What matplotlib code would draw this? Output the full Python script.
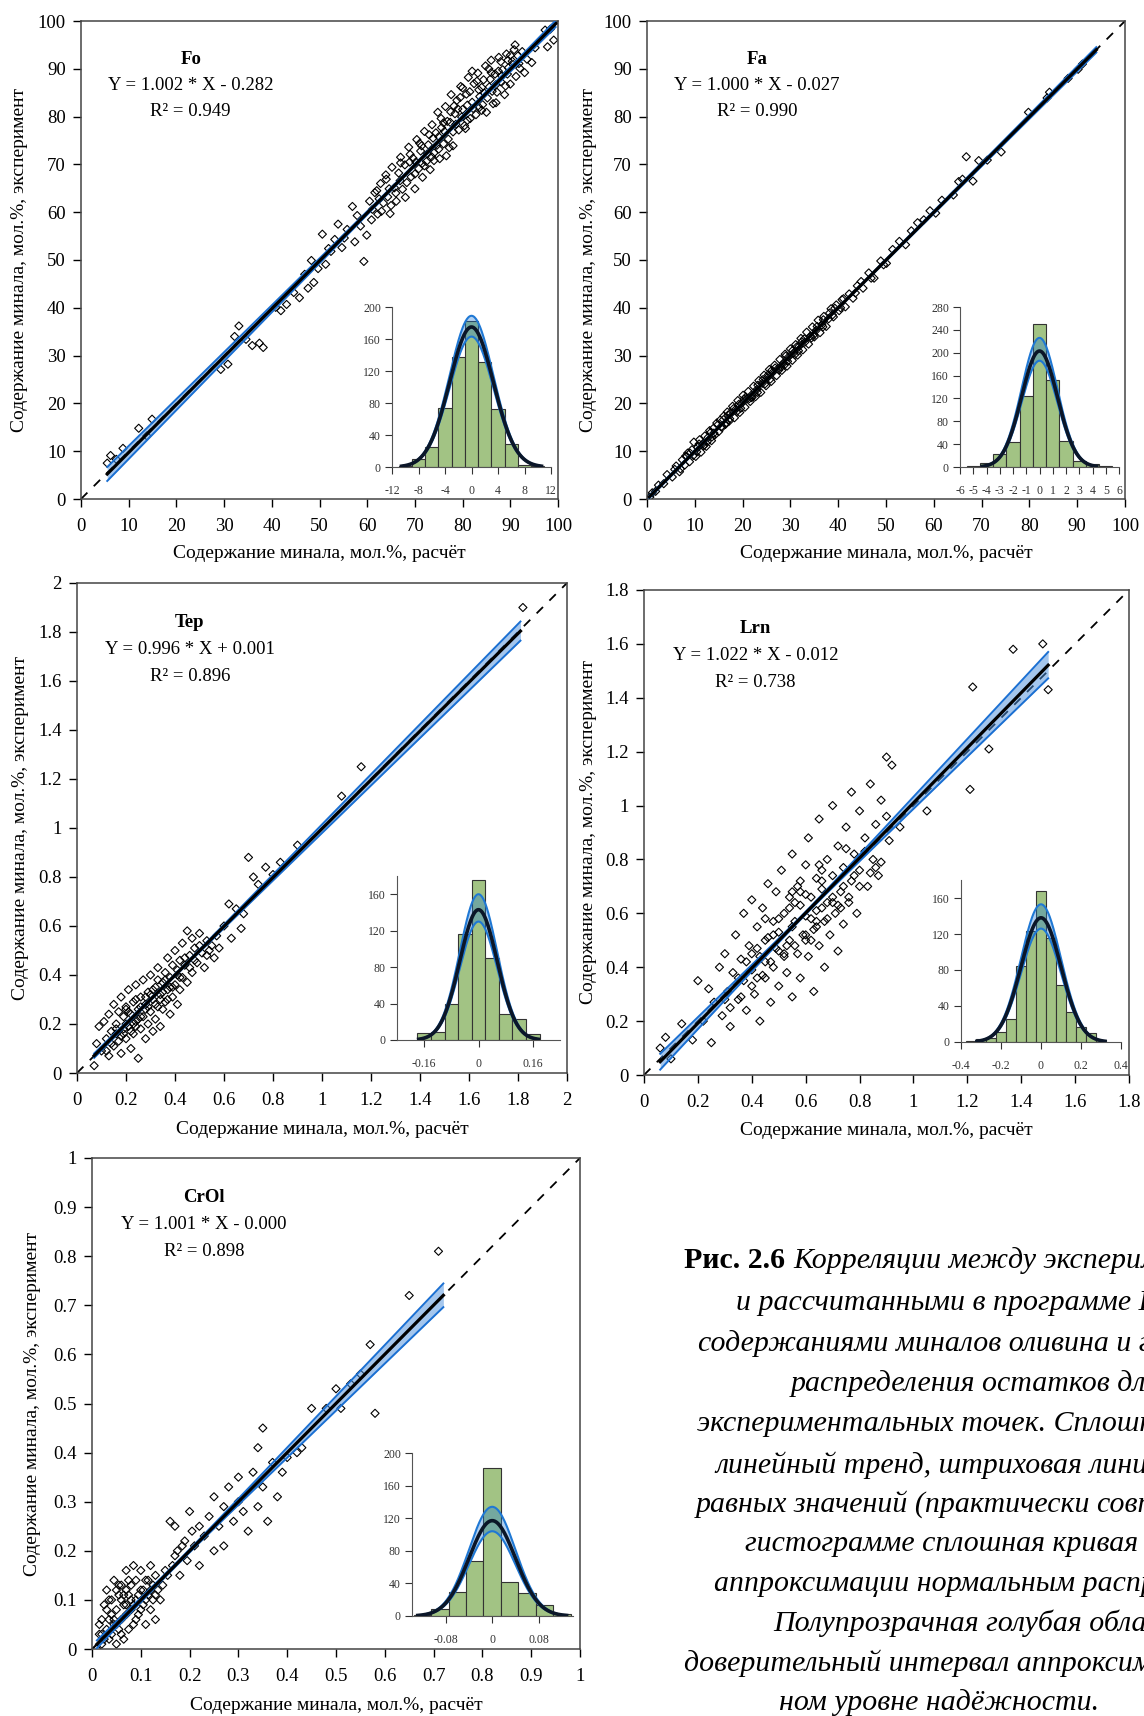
import numpy as np
import matplotlib
matplotlib.use('Agg')
import matplotlib.pyplot as plt
from matplotlib.ticker import FormatStrFormatter

plt.rcParams['font.family'] = ['Liberation Serif', 'DejaVu Serif']

W, H = 1144, 1716

# ---------------- scatter data (calculated vs experimental) ----------------
fo_calc = [5.5, 6.2, 7.4, 8.8, 12.1, 13.8, 14.9, 29.3, 30.8, 32.2, 33.1, 34.6, 35.9, 37.4, 38.2,
           40.8, 41.9, 43.1, 44.6, 45.8, 46.9, 47.6, 48.8, 49.7, 50.6, 51.3, 52.4, 53.2, 53.9, 54.7, 55.8,
           56.9, 57.4, 58.6, 59.3, 59.9, 60.5, 60.9, 61.6, 62.2, 62.8, 63.4, 63.9, 64.3, 64.8, 65.2, 65.7,
           66.1, 66.6, 67.0, 67.4, 67.9, 68.3, 68.7, 69.2, 69.6, 70.0, 70.4, 70.8, 71.2, 71.6, 72.0, 72.4,
           72.8, 73.2, 73.6, 74.0, 74.4, 74.8, 75.2, 75.6, 76.0, 76.4, 76.8, 77.2, 77.6, 78.0, 78.4, 78.8,
           79.2, 79.6, 80.0, 80.4, 80.8, 81.2, 81.6, 82.0, 82.4, 82.8, 83.2, 83.6, 84.0, 84.4, 84.8, 85.2,
           85.6, 86.0, 86.4, 86.8, 87.2, 87.6, 88.0, 88.4, 88.8, 89.2, 89.6, 90.0, 90.4, 90.8, 91.2, 91.6,
           92.0, 92.5, 93.0, 93.5, 94.5, 95.2, 97.3, 97.8, 98.4, 99.1,
           70.2, 71.4, 72.6, 73.8, 75.0, 76.2, 77.4, 78.6, 79.8, 81.0, 82.2, 83.4, 84.6, 85.8, 87.0, 88.2,
           89.4, 90.6, 91.8, 84.2, 86.2, 80.6, 78.2, 74.6, 76.6, 68.9, 66.9, 64.6, 62.5, 61.1, 57.9, 55.2,
           51.9, 48.3,
           62.0, 63.0, 64.0, 65.0, 66.0, 67.0, 68.0, 69.0, 70.0, 71.0, 72.0, 73.0, 74.0, 75.0, 76.0,
           77.0, 78.0, 79.0, 80.0, 81.0, 82.0, 83.0, 84.0, 85.0, 86.0, 87.0, 88.0, 89.0, 90.0, 91.0,
           79.5, 81.5, 83.5, 85.5, 87.5, 89.5, 77.5, 75.5, 73.5, 71.5]
fo_exp = [7.5, 9.1, 8.3, 10.6, 14.8, 13.2, 16.7, 27.1, 28.2, 34.0, 36.2, 33.4, 32.1, 32.6, 31.7,
          40.1, 39.4, 40.7, 43.2, 42.1, 47.0, 44.1, 45.3, 48.2, 55.4, 49.1, 51.8, 54.3, 57.5, 52.6, 56.4,
          61.2, 53.8, 57.1, 49.7, 55.2, 62.3, 58.4, 64.1, 59.6, 66.0, 61.9, 67.8, 63.2, 59.7, 69.4, 65.1,
          62.3, 68.2, 71.5, 64.8, 69.9, 66.2, 73.6, 67.4, 71.3, 64.9, 75.2, 69.1, 72.8, 67.3, 76.9, 70.6,
          74.1, 68.9, 78.3, 72.4, 76.6, 80.9, 71.2, 77.7, 74.3, 82.1, 79.0, 73.5, 84.6, 76.8, 80.6, 83.4,
          77.2, 86.3, 81.5, 78.1, 84.7, 88.2, 79.6, 83.0, 86.9, 80.4, 89.1, 84.2, 81.3, 87.7, 90.6, 83.9,
          86.2, 91.8, 82.7, 88.9, 85.1, 92.4, 87.3, 89.8, 84.6, 93.1, 90.2, 86.8, 91.6, 94.0, 88.4, 92.7,
          90.1, 93.6, 89.2, 92.0, 91.3, 94.4, 98.1, 94.6, 98.3, 96.0,
          70.5, 73.9, 72.2, 75.5, 75.8, 76.9, 78.8, 78.4, 79.9, 82.4, 81.7, 85.6, 84.9, 87.8, 86.7, 88.5,
          88.9, 90.9, 91.1, 82.5, 85.3, 77.5, 82.2, 74.0, 71.8, 70.5, 66.6, 64.9, 62.8, 60.6, 59.3, 54.6,
          52.4, 49.9,
          64.5, 60.2, 66.9, 61.4, 64.0, 70.3, 63.1, 72.1, 68.0, 74.4, 69.7, 76.2, 70.8, 73.2, 78.7,
          75.3, 73.9, 81.6, 86.0, 79.2, 89.5, 87.4, 86.1, 80.9, 89.2, 82.9, 91.5, 86.4, 92.8, 95.0,
          84.0, 85.2, 81.9, 90.0, 89.5, 91.8, 81.0, 79.6, 71.6, 70.2]

fa_calc = [0.6, 1.1, 1.8, 2.4, 3.5, 4.2, 5.3, 6.1, 6.8, 7.4, 7.9, 8.5, 8.9, 9.4, 9.8, 10.2,
           10.6, 11.0, 11.3, 11.7, 12.1, 12.4, 12.8, 13.1, 13.5, 13.9, 14.2, 14.6, 15.0, 15.3, 15.7, 16.1,
           16.4, 16.8, 17.2, 17.5, 17.9, 18.3, 18.6, 19.0, 19.4, 19.7, 20.1, 20.5, 20.8, 21.2, 21.6, 21.9,
           22.3, 22.7, 23.0, 23.4, 23.8, 24.1, 24.5, 24.9, 25.2, 25.6, 26.0, 26.3, 26.7, 27.1, 27.4, 27.8,
           28.2, 28.5, 28.9, 29.3, 29.6, 30.0, 30.4, 30.7, 31.1, 31.5, 31.8, 32.2, 32.6, 33.0, 33.4, 33.8,
           34.2, 34.6, 35.0, 35.4, 35.8, 36.2, 36.6, 37.0, 37.5, 38.0, 38.5, 39.0, 39.6, 40.2, 40.8, 41.5,
           42.3, 43.1, 44.0, 45.2, 46.4, 47.5, 48.9, 50.1, 51.4, 52.8, 54.1, 55.3, 56.6, 57.9, 59.2, 60.4,
           61.7, 64.1, 65.2, 66.0, 66.8, 68.2, 69.4, 71.2, 74.1, 79.8, 83.7, 84.2, 88.1, 90.2, 91.1,
           9.0, 10.4, 12.6, 14.0, 15.5, 17.0, 18.8, 20.3, 21.4, 23.2, 24.7, 26.1, 27.6, 29.0, 30.9, 32.4,
           8.1, 11.8, 13.3, 16.6, 19.2, 22.0, 25.4, 28.7, 31.3, 34.9, 36.9, 38.8,
           5.8, 7.0, 8.3, 9.7, 10.9, 12.0, 13.6, 14.8, 16.0, 17.3, 18.1, 19.6, 20.7, 21.8, 23.1, 24.3,
           25.8, 26.8, 28.0, 29.4, 30.5, 31.7, 32.9, 34.4, 35.6, 36.8, 38.2, 39.3, 40.5, 41.1, 43.6, 44.8,
           46.9, 49.5]
fa_exp = [0.4, 1.3, 1.6, 2.9, 3.2, 5.1, 4.6, 6.9, 5.7, 8.2, 7.1, 9.6, 7.8, 10.3, 11.9, 8.9,
          10.8, 12.4, 9.8, 11.6, 13.2, 11.0, 12.9, 14.3, 12.2, 14.8, 13.4, 15.9, 14.1, 16.5, 15.0, 17.4,
          15.6, 18.2, 16.3, 17.9, 19.4, 17.0, 18.8, 20.6, 18.1, 19.9, 21.7, 19.2, 20.9, 22.5, 20.4, 21.8,
          23.6, 21.4, 22.9, 24.8, 22.3, 24.2, 25.9, 23.7, 25.4, 27.1, 24.6, 26.5, 28.0, 25.8, 27.3, 29.2,
          26.9, 28.4, 30.3, 27.8, 29.7, 31.4, 29.0, 30.6, 32.3, 30.1, 31.9, 33.6, 31.2, 32.8, 34.9, 32.4,
          34.1, 36.0, 33.9, 35.3, 37.4, 34.8, 36.4, 38.2, 36.1, 37.7, 39.8, 38.1, 40.6, 39.4, 41.7, 40.2,
          42.9, 42.0, 44.6, 44.1, 47.3, 46.2, 49.8, 49.3, 52.2, 53.9, 53.2, 56.1, 57.8, 58.4, 60.3, 59.8,
          62.5, 63.6, 66.4, 66.9, 71.6, 66.5, 70.8, 70.9, 72.6, 80.9, 83.9, 85.1, 88.0, 89.9, 91.0,
          9.6, 9.9, 12.0, 13.8, 15.1, 17.6, 18.3, 20.9, 21.0, 23.8, 24.1, 26.9, 27.0, 29.9, 30.2, 32.9,
          9.0, 11.1, 13.9, 16.0, 19.8, 21.3, 26.0, 28.0, 31.8, 34.4, 37.5, 38.5,
          6.2, 6.3, 8.9, 9.1, 11.5, 11.3, 13.0, 15.5, 16.6, 16.8, 18.9, 19.0, 21.3, 21.2, 22.3, 25.0,
          25.1, 27.4, 27.6, 28.8, 31.1, 31.0, 33.5, 33.7, 36.1, 36.0, 38.9, 39.9, 40.0, 41.9, 43.1, 45.5,
          46.2, 49.0]

tep_calc = [0.07, 0.08, 0.09, 0.10, 0.11, 0.12, 0.13, 0.13, 0.14, 0.15, 0.15, 0.16, 0.17, 0.17, 0.18, 0.18,
            0.19, 0.19, 0.20, 0.20, 0.21, 0.21, 0.22, 0.22, 0.23, 0.23, 0.24, 0.24, 0.25, 0.25, 0.26, 0.26,
            0.27, 0.27, 0.28, 0.28, 0.29, 0.29, 0.30, 0.30, 0.31, 0.31, 0.32, 0.32, 0.33, 0.33, 0.34, 0.34,
            0.35, 0.35, 0.36, 0.36, 0.37, 0.37, 0.38, 0.38, 0.39, 0.39, 0.40, 0.40, 0.41, 0.41, 0.42, 0.42,
            0.43, 0.43, 0.44, 0.45, 0.45, 0.46, 0.47, 0.47, 0.48, 0.49, 0.50, 0.51, 0.52, 0.53, 0.54, 0.55,
            0.56, 0.57, 0.58, 0.60, 0.62, 0.63, 0.65, 0.67, 0.68, 0.70, 0.72, 0.74, 0.77, 0.80, 0.83, 0.90,
            1.08, 1.16, 1.82, 0.20, 0.25, 0.30, 0.35, 0.28, 0.22, 0.18, 0.16, 0.26, 0.32, 0.38, 0.24, 0.14, 0.12,
            0.16, 0.19, 0.21, 0.23, 0.26, 0.29, 0.31, 0.34, 0.36, 0.39, 0.41, 0.44, 0.46, 0.48, 0.50, 0.53,
            0.20, 0.24, 0.28, 0.33, 0.37, 0.42]
tep_exp = [0.03, 0.12, 0.19, 0.09, 0.21, 0.14, 0.07, 0.24, 0.17, 0.11, 0.28, 0.20, 0.13, 0.25, 0.08, 0.31,
           0.18, 0.23, 0.14, 0.27, 0.34, 0.19, 0.10, 0.24, 0.29, 0.16, 0.36, 0.21, 0.26, 0.06, 0.31, 0.18,
           0.23, 0.38, 0.28, 0.14, 0.33, 0.20, 0.25, 0.40, 0.30, 0.17, 0.35, 0.22, 0.27, 0.43, 0.32, 0.19,
           0.37, 0.26, 0.41, 0.29, 0.34, 0.47, 0.39, 0.24, 0.44, 0.31, 0.36, 0.50, 0.42, 0.28, 0.46, 0.34,
           0.39, 0.53, 0.44, 0.37, 0.58, 0.48, 0.41, 0.55, 0.51, 0.45, 0.57, 0.49, 0.43, 0.54, 0.50, 0.52,
           0.47, 0.56, 0.51, 0.60, 0.69, 0.55, 0.67, 0.59, 0.65, 0.88, 0.80, 0.77, 0.84, 0.81, 0.86, 0.93,
           1.13, 1.25, 1.90, 0.20, 0.22, 0.32, 0.33, 0.26, 0.17, 0.15, 0.16, 0.27, 0.28, 0.35, 0.30, 0.12, 0.09,
           0.18, 0.16, 0.25, 0.20, 0.23, 0.27, 0.34, 0.30, 0.38, 0.35, 0.40, 0.47, 0.43, 0.46, 0.52, 0.48,
           0.26, 0.19, 0.31, 0.38, 0.30, 0.39]

lrn_calc = [0.06, 0.08, 0.10, 0.14, 0.18, 0.20, 0.22, 0.24, 0.25, 0.26, 0.28, 0.29, 0.30, 0.31, 0.32, 0.33,
            0.34, 0.35, 0.36, 0.37, 0.37, 0.38, 0.39, 0.40, 0.40, 0.41, 0.42, 0.43, 0.43, 0.44, 0.45, 0.45,
            0.46, 0.47, 0.47, 0.48, 0.49, 0.49, 0.50, 0.50, 0.51, 0.52, 0.52, 0.53, 0.54, 0.54, 0.55, 0.55,
            0.56, 0.57, 0.57, 0.58, 0.58, 0.59, 0.60, 0.60, 0.61, 0.61, 0.62, 0.63, 0.63, 0.64, 0.64, 0.65,
            0.65, 0.66, 0.67, 0.67, 0.68, 0.68, 0.69, 0.70, 0.70, 0.71, 0.72, 0.72, 0.73, 0.74, 0.74, 0.75,
            0.76, 0.77, 0.77, 0.78, 0.79, 0.80, 0.80, 0.82, 0.83, 0.84, 0.85, 0.86, 0.87, 0.88, 0.90, 0.91,
            0.92, 0.95, 1.05, 1.21, 1.22, 1.28, 1.37, 1.48, 1.50,
            0.40, 0.45, 0.50, 0.55, 0.60, 0.62, 0.66, 0.70, 0.35, 0.30, 0.53, 0.48, 0.58, 0.66, 0.73, 0.42,
            0.38, 0.56, 0.64, 0.60,
            0.32, 0.36, 0.40, 0.44, 0.48, 0.52, 0.56, 0.60, 0.64, 0.68, 0.72, 0.76, 0.80, 0.84, 0.88,
            0.42, 0.46, 0.50, 0.54, 0.58, 0.62, 0.66, 0.70, 0.74, 0.78, 0.82, 0.86, 0.90,
            0.45, 0.55, 0.65, 0.75]
lrn_exp = [0.10, 0.14, 0.06, 0.19, 0.13, 0.35, 0.20, 0.32, 0.12, 0.27, 0.40, 0.22, 0.45, 0.31, 0.18, 0.38,
           0.52, 0.28, 0.43, 0.35, 0.60, 0.24, 0.48, 0.39, 0.65, 0.30, 0.55, 0.44, 0.20, 0.62, 0.36, 0.50,
           0.71, 0.42, 0.27, 0.57, 0.47, 0.68, 0.33, 0.53, 0.76, 0.44, 0.60, 0.38, 0.66, 0.50, 0.29, 0.82,
           0.57, 0.45, 0.70, 0.63, 0.36, 0.52, 0.78, 0.59, 0.44, 0.88, 0.66, 0.54, 0.31, 0.73, 0.61, 0.48,
           0.95, 0.69, 0.57, 0.40, 0.80, 0.64, 0.52, 0.74, 1.00, 0.60, 0.85, 0.46, 0.68, 0.77, 0.56, 0.92,
           0.64, 1.05, 0.72, 0.82, 0.60, 0.76, 0.98, 0.88, 0.70, 1.08, 0.80, 0.93, 0.74, 1.02, 1.18, 0.87,
           1.15, 0.92, 0.98, 1.06, 1.44, 1.21, 1.58, 1.60, 1.43,
           0.45, 0.42, 0.58, 0.55, 0.67, 0.50, 0.62, 0.66, 0.36, 0.28, 0.48, 0.52, 0.72, 0.76, 0.62, 0.36,
           0.42, 0.64, 0.57, 0.50,
           0.25, 0.29, 0.33, 0.37, 0.40, 0.45, 0.48, 0.52, 0.55, 0.58, 0.63, 0.66, 0.70, 0.75, 0.79,
           0.47, 0.51, 0.46, 0.62, 0.68, 0.58, 0.72, 0.64, 0.70, 0.74, 0.83, 0.77, 0.96,
           0.58, 0.68, 0.78, 0.84]

crol_calc = [0.010, 0.015, 0.020, 0.020, 0.025, 0.030, 0.030, 0.035, 0.040, 0.040, 0.045, 0.045, 0.050, 0.050, 0.055, 0.055,
             0.060, 0.060, 0.065, 0.065, 0.070, 0.070, 0.075, 0.075, 0.080, 0.080, 0.085, 0.085, 0.090, 0.090, 0.095, 0.100,
             0.100, 0.105, 0.110, 0.110, 0.115, 0.120, 0.120, 0.125, 0.130, 0.130, 0.140, 0.150, 0.160, 0.170, 0.170, 0.180,
             0.19, 0.20, 0.21, 0.22, 0.22, 0.23, 0.24, 0.25, 0.25, 0.26, 0.27, 0.27, 0.28, 0.29, 0.30, 0.30,
             0.31, 0.32, 0.33, 0.34, 0.34, 0.35, 0.35, 0.36, 0.37, 0.38, 0.39, 0.40, 0.42, 0.43, 0.45, 0.48,
             0.50, 0.51, 0.53, 0.55, 0.57, 0.58, 0.65, 0.71,
             0.020, 0.030, 0.040, 0.050, 0.060, 0.070, 0.080, 0.090, 0.100, 0.110, 0.120, 0.130, 0.050, 0.060, 0.035, 0.070,
             0.015, 0.025, 0.035, 0.045, 0.055, 0.065, 0.075, 0.085, 0.095, 0.105, 0.115, 0.125, 0.135, 0.145, 0.155, 0.165,
             0.175, 0.185, 0.195, 0.205]
crol_exp = [0.00, 0.03, 0.06, 0.01, 0.09, 0.04, 0.12, 0.02, 0.07, 0.10, 0.05, 0.14, 0.01, 0.08, 0.11, 0.04,
            0.13, 0.06, 0.09, 0.02, 0.16, 0.07, 0.11, 0.04, 0.13, 0.08, 0.17, 0.05, 0.10, 0.14, 0.07, 0.12,
            0.16, 0.09, 0.05, 0.14, 0.11, 0.17, 0.08, 0.13, 0.15, 0.06, 0.10, 0.16, 0.26, 0.25, 0.19, 0.15,
            0.22, 0.28, 0.21, 0.17, 0.25, 0.23, 0.27, 0.20, 0.31, 0.25, 0.29, 0.21, 0.33, 0.26, 0.30, 0.35,
            0.28, 0.24, 0.36, 0.29, 0.41, 0.33, 0.45, 0.26, 0.38, 0.31, 0.36, 0.39, 0.40, 0.41, 0.49, 0.49,
            0.53, 0.49, 0.54, 0.56, 0.62, 0.48, 0.72, 0.81,
            0.03, 0.08, 0.03, 0.12, 0.10, 0.12, 0.10, 0.06, 0.08, 0.10, 0.12, 0.11, 0.05, 0.03, 0.06, 0.09,
            0.05, 0.02, 0.10, 0.06, 0.13, 0.11, 0.14, 0.09, 0.11, 0.12, 0.14, 0.10, 0.12, 0.13, 0.15, 0.17,
            0.20, 0.21, 0.18, 0.24]

# regression: slope, intercept, R2
fo_fit = (1.002, -0.282, 0.949)
fa_fit = (1.000, -0.027, 0.990)
tep_fit = (0.996, 0.001, 0.896)
lrn_fit = (1.022, -0.012, 0.738)
crol_fit = (1.001, -0.0004, 0.898)

# ---------------- residual histograms ----------------
fo_res = [-10, -8, -6, -4, -2, 0, 2, 4, 6, 8, 10]
fo_cnt = [1, 10, 25, 74, 137, 183, 131, 72, 29, 2, 1]
fa_res = [-5, -4, -3, -2, -1, 0, 1, 2, 3, 4, 5]
fa_cnt = [1, 7, 22, 43, 125, 250, 153, 46, 11, 6, 1]
tep_res = [-0.16, -0.12, -0.08, -0.04, 0, 0.04, 0.08, 0.12, 0.16]
tep_cnt = [8, 9, 39, 116, 176, 90, 28, 23, 7]
lrn_res = [-0.35, -0.3, -0.25, -0.2, -0.15, -0.1, -0.05, 0, 0.05, 0.1, 0.15, 0.2, 0.25, 0.3]
lrn_cnt = [1, 3, 4, 11, 26, 84, 123, 168, 116, 63, 33, 17, 10, 2]
crol_res = [-0.12, -0.09, -0.06, -0.03, 0, 0.03, 0.06, 0.09, 0.12]
crol_cnt = [1, 9, 29, 67, 182, 42, 28, 14, 3]

# normal fit: peak, lower, upper, sd
fo_norm = (175, 163, 189, 3.3)
fa_norm = (203, 186, 226, 1.35)
tep_norm = (143, 130, 160, 0.055)
lrn_norm = (138, 126, 153, 0.1)
crol_norm = (117, 104, 134, 0.04)

fig = plt.figure(figsize=(W / 100, H / 100), dpi=100)


def px_axes(l, t, r, b):
    return fig.add_axes([l / W, 1 - b / H, (r - l) / W, (b - t) / H])


def scatter_panel(box, calc, exp, fit, xr, band, lim, step, name, ylab_x):
    ax = px_axes(*box)
    slope, icpt, r2 = fit
    ax.plot([0, lim], [0, lim], color='black', lw=1.3, ls=(0, (5, 5)), zorder=1)
    ax.scatter(calc, exp, marker='D', s=17, facecolors='none', edgecolors='black',
               linewidths=0.8, zorder=2)
    xs = np.linspace(xr[0], xr[1], 200)
    ys = slope * xs + icpt
    xm = np.mean(calc)
    hw = np.sqrt(band[0] ** 2 + (band[1] * (xs - xm)) ** 2)
    ax.fill_between(xs, ys - hw, ys + hw, color='#4a8fdc', alpha=0.5, lw=0, zorder=3)
    ax.plot(xs, ys + hw, color='#1a6fd2', lw=1.4, zorder=4)
    ax.plot(xs, ys - hw, color='#1a6fd2', lw=1.4, zorder=4)
    ax.plot(xs, ys, color='black', lw=2.3, zorder=5)
    ax.set_xlim(0, lim)
    ax.set_ylim(0, lim)
    ticks = np.arange(0, lim + step / 2, step)
    ax.set_xticks(ticks)
    ax.set_yticks(ticks)
    ax.xaxis.set_major_formatter(FormatStrFormatter('%g'))
    ax.yaxis.set_major_formatter(FormatStrFormatter('%g'))
    ax.tick_params(direction='out', length=6, width=1, labelsize=13.5)
    ax.tick_params(axis='x', pad=8)
    ax.tick_params(axis='y', pad=5)
    for sp in ax.spines.values():
        sp.set_color('#444444')
        sp.set_linewidth(1.1)
    sign = '+' if icpt >= 0 else '-'
    ax.text(0.23, 0.92, name, transform=ax.transAxes, ha='center', va='center',
            fontsize=13.5, fontweight='bold')
    ax.text(0.23, 0.865, f'Y = {slope:.3f} * X {sign} {abs(icpt):.3f}', transform=ax.transAxes,
            ha='center', va='center', fontsize=13.5)
    ax.text(0.23, 0.81, f'R² = {r2:.3f}', transform=ax.transAxes,
            ha='center', va='center', fontsize=13.5)
    ax.text(0.5, -0.115, 'Содержание минала, мол.%, расчёт', transform=ax.transAxes,
            ha='center', va='center', fontsize=14)
    ax.text(ylab_x, 0.5, 'Содержание минала, мол.%, эксперимент', transform=ax.transAxes,
            ha='center', va='center', rotation=90, fontsize=14)
    return ax


def hist_inset(box, centers, counts, width, norm, xlim, xticks, ylim, yticks):
    ax = px_axes(*box)
    ax.patch.set_alpha(0)
    peak, lo, hi, sd = norm
    ax.bar(centers, counts, width=width, color='#a2c384', edgecolor='#333333', lw=0.8, zorder=1)
    xs = np.linspace(-3.2 * sd, 3.2 * sd, 200)
    g = np.exp(-xs ** 2 / (2 * sd ** 2))
    ax.fill_between(xs, lo * g, hi * g, color='#1f78d4', alpha=0.35, lw=0, zorder=2)
    ax.plot(xs, hi * g, color='#1f78d4', lw=1.5, zorder=3)
    ax.plot(xs, lo * g, color='#1f78d4', lw=1.5, zorder=3)
    ax.plot(xs, peak * g, color='#0b1628', lw=2.6, zorder=4)
    ax.set_xlim(*xlim)
    ax.set_ylim(*ylim)
    ax.set_xticks(xticks)
    ax.set_yticks(yticks)
    ax.xaxis.set_major_formatter(FormatStrFormatter('%g'))
    ax.spines['top'].set_visible(False)
    ax.spines['right'].set_visible(False)
    for sp in ('left', 'bottom'):
        ax.spines[sp].set_color('#555555')
    ax.tick_params(direction='out', length=5, width=0.8, labelsize=8.5, colors='#333333')
    ax.tick_params(axis='x', pad=8)
    ax.tick_params(axis='y', pad=3)
    return ax


scatter_panel((81, 21, 558, 499), fo_calc, fo_exp, fo_fit, (5.5, 99.5), (0.25, 0.022),
              100, 10, 'Fo', -0.128)
scatter_panel((647, 21, 1125, 499), fa_calc, fa_exp, fa_fit, (0.5, 94.0), (0.08, 0.0087),
              100, 10, 'Fa', -0.123)
scatter_panel((77, 583, 567, 1073), tep_calc, tep_exp, tep_fit, (0.07, 1.81), (0.004, 0.027),
              2, 0.2, 'Tep', -0.116)
scatter_panel((644, 590, 1129, 1075), lrn_calc, lrn_exp, lrn_fit, (0.06, 1.50), (0.005, 0.054),
              1.8, 0.2, 'Lrn', -0.115)
scatter_panel((92, 1158, 580, 1649), crol_calc, crol_exp, crol_fit, (0.01, 0.72), (0.003, 0.044),
              1, 0.1, 'CrOl', -0.121)

hist_inset((392, 307, 551, 467), fo_res, fo_cnt, 2, fo_norm, (-12, 12),
           np.arange(-12, 13, 4), (0, 200), np.arange(0, 201, 40))
hist_inset((960, 307, 1119, 467), fa_res, fa_cnt, 1, fa_norm, (-6, 6),
           np.arange(-6, 7, 1), (0, 280), np.arange(0, 281, 40))
hist_inset((397, 876, 560, 1040), tep_res, tep_cnt, 0.04, tep_norm, (-0.24, 0.24),
           [-0.16, 0, 0.16], (0, 180), np.arange(0, 161, 40))
hist_inset((961, 880, 1121, 1042), lrn_res, lrn_cnt, 0.05, lrn_norm, (-0.4, 0.4),
           [-0.4, -0.2, 0, 0.2, 0.4], (0, 180), np.arange(0, 161, 40))
hist_inset((412, 1453, 573, 1616), crol_res, crol_cnt, 0.03, crol_norm, (-0.138, 0.139),
           [-0.08, 0, 0.08], (0, 200), np.arange(0, 201, 40))

# ---------------- caption (runs past the right edge, as in the source page) ----------------
cap_lines = ['Корреляции между экспериментальными',
             'и рассчитанными в программе Комагмат',
             'содержаниями миналов оливина и гистограммы',
             'распределения остатков для всех',
             'экспериментальных точек. Сплошная линия –',
             'линейный тренд, штриховая линия – линия',
             'равных значений (практически совпадает). На',
             'гистограмме сплошная кривая – результат',
             'аппроксимации нормальным распределением.',
             'Полупрозрачная голубая область –',
             'доверительный интервал аппроксимации на 95%-',
             'ном уровне надёжности.']
cap_x = [684, 736, 698, 791, 697, 715, 696, 745, 714, 773, 684, 779]
cap_y = [1261, 1303, 1344, 1384, 1424, 1465, 1504, 1544, 1584, 1623, 1663, 1703]
cap_size = 21.5

head = fig.text(cap_x[0] / W, 1 - cap_y[0] / H, 'Рис. 2.6', fontsize=cap_size,
                fontweight='bold', ha='left', va='center')
fig.canvas.draw()
bb = head.get_window_extent()
fig.text((bb.x1 + 8) / W, 1 - cap_y[0] / H, cap_lines[0], fontsize=cap_size,
         style='italic', ha='left', va='center')
for txt, x, y in zip(cap_lines[1:], cap_x[1:], cap_y[1:]):
    fig.text(x / W, 1 - y / H, txt, fontsize=cap_size, style='italic', ha='left', va='center')

fig.savefig('out.png', dpi=100)
